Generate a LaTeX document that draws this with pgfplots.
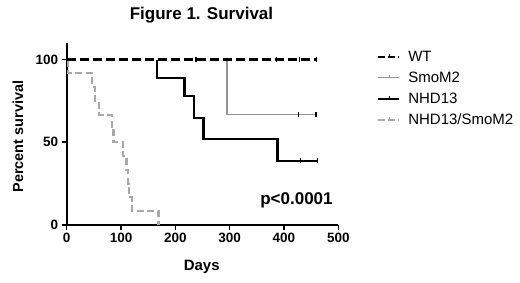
\documentclass[border=0pt]{standalone}
\usepackage{fontspec}
\setmainfont{Liberation Sans}
\usepackage{pgfplots}
\pgfplotsset{compat=1.18}
\definecolor{gA}{gray}{0.58}
\definecolor{gB}{gray}{0.66}
\begin{document}
\begin{tikzpicture}
\path[use as bounding box] (-66.7pt,-58pt) rectangle (453.3pt,225pt);
\begin{axis}[
  at={(0pt,0pt)}, anchor=south west,
  width=271.6pt, height=182pt, scale only axis,
  xmin=0, xmax=500, ymin=0, ymax=110,
  axis lines=left, axis line style={line width=2pt,-},
  xtick={0,100,200,300,400,500}, ytick={0,50,100},
  tick style={line width=1.6pt, black}, major tick length=5pt, tick align=outside,
  ticklabel style={font=\bfseries\fontsize{13.5}{13.5}\selectfont},
  /pgf/number format/assume math mode=true,
  clip=false,
  legend style={at={(rel axis cs:1.142,0.958)}, anchor=north west, draw=none, fill=none,
    font=\fontsize{15}{15}\selectfont, row sep=9pt, inner sep=0pt, nodes={inner xsep=8pt, inner ysep=0pt}},
  legend cell align=left,
  legend image code/.code={\draw[#1] (0pt,0pt) -- (21pt,0pt); \draw[#1, solid, line width=0.9pt] (11pt,0pt) -- (11pt,2.5pt);},
]
\addlegendimage{black, line width=2.2pt, dash pattern=on 7pt off 3pt}
\addlegendentry{WT}
\addlegendimage{gA, line width=1.6pt}
\addlegendentry{SmoM2}
\addlegendimage{black, line width=2.2pt}
\addlegendentry{NHD13}
\addlegendimage{gB, line width=2.2pt, dash pattern=on 7pt off 3pt}
\addlegendentry{NHD13/SmoM2}

% NHD13/SmoM2
\addplot[forget plot, gB, line width=2.2pt, dash pattern=on 7pt off 3.5pt] coordinates {
(2,100)(2,91.7)(47,91.7)(47,83.3)(52,83.3)(52,75)(60,75)(60,66.7)(83,66.7)(83,58.3)(86,58.3)(86,50)
(104,50)(104,41.7)(110,41.7)(110,33.3)(113,33.3)(113,25)(115,25)(115,16.7)(120,16.7)(120,8.3)(169,8.3)(169,0)};
% NHD13
\addplot[forget plot, black, line width=2.2pt] coordinates {
(166,100)(166,88.9)(217,88.9)(217,77.8)(235,77.8)(235,64.8)(252,64.8)(252,51.9)(388,51.9)(388,38.9)(461,38.9)};
\addplot[forget plot, black, only marks, mark=|, mark size=2.2pt, mark options={line width=1.2pt}] coordinates {(430,38.9)(461,38.9)};
% SmoM2
\addplot[forget plot, gA, line width=1.6pt] coordinates {(295,100)(295,66.7)(461,66.7)};
\addplot[forget plot, black, only marks, mark=|, mark size=2.2pt, mark options={line width=1.2pt}] coordinates {(427,66.7)(459,66.7)};
% WT
\addplot[forget plot, black, line width=2.2pt, dash pattern=on 9pt off 4pt] coordinates {(0,100)(461,100)};
\addplot[forget plot, black, only marks, mark=|, mark size=2.2pt, mark options={line width=1.2pt}] coordinates {(238,100)(386,100)(428,100)(460,100)};
\end{axis}
\node[font=\bfseries\fontsize{17}{17}\selectfont] at (134.8pt,210pt) {Figure 1. Survival};
\node[font=\bfseries\fontsize{15}{15}\selectfont] at (135pt,-41.7pt) {Days};
\node[rotate=90, font=\bfseries\fontsize{14.5}{14.5}\selectfont] at (-48.7pt,88.5pt) {Percent survival};
\node[font=\bfseries\fontsize{17}{17}\selectfont] at (229.8pt,25pt) {p<0.0001};
\end{tikzpicture}
\end{document}
